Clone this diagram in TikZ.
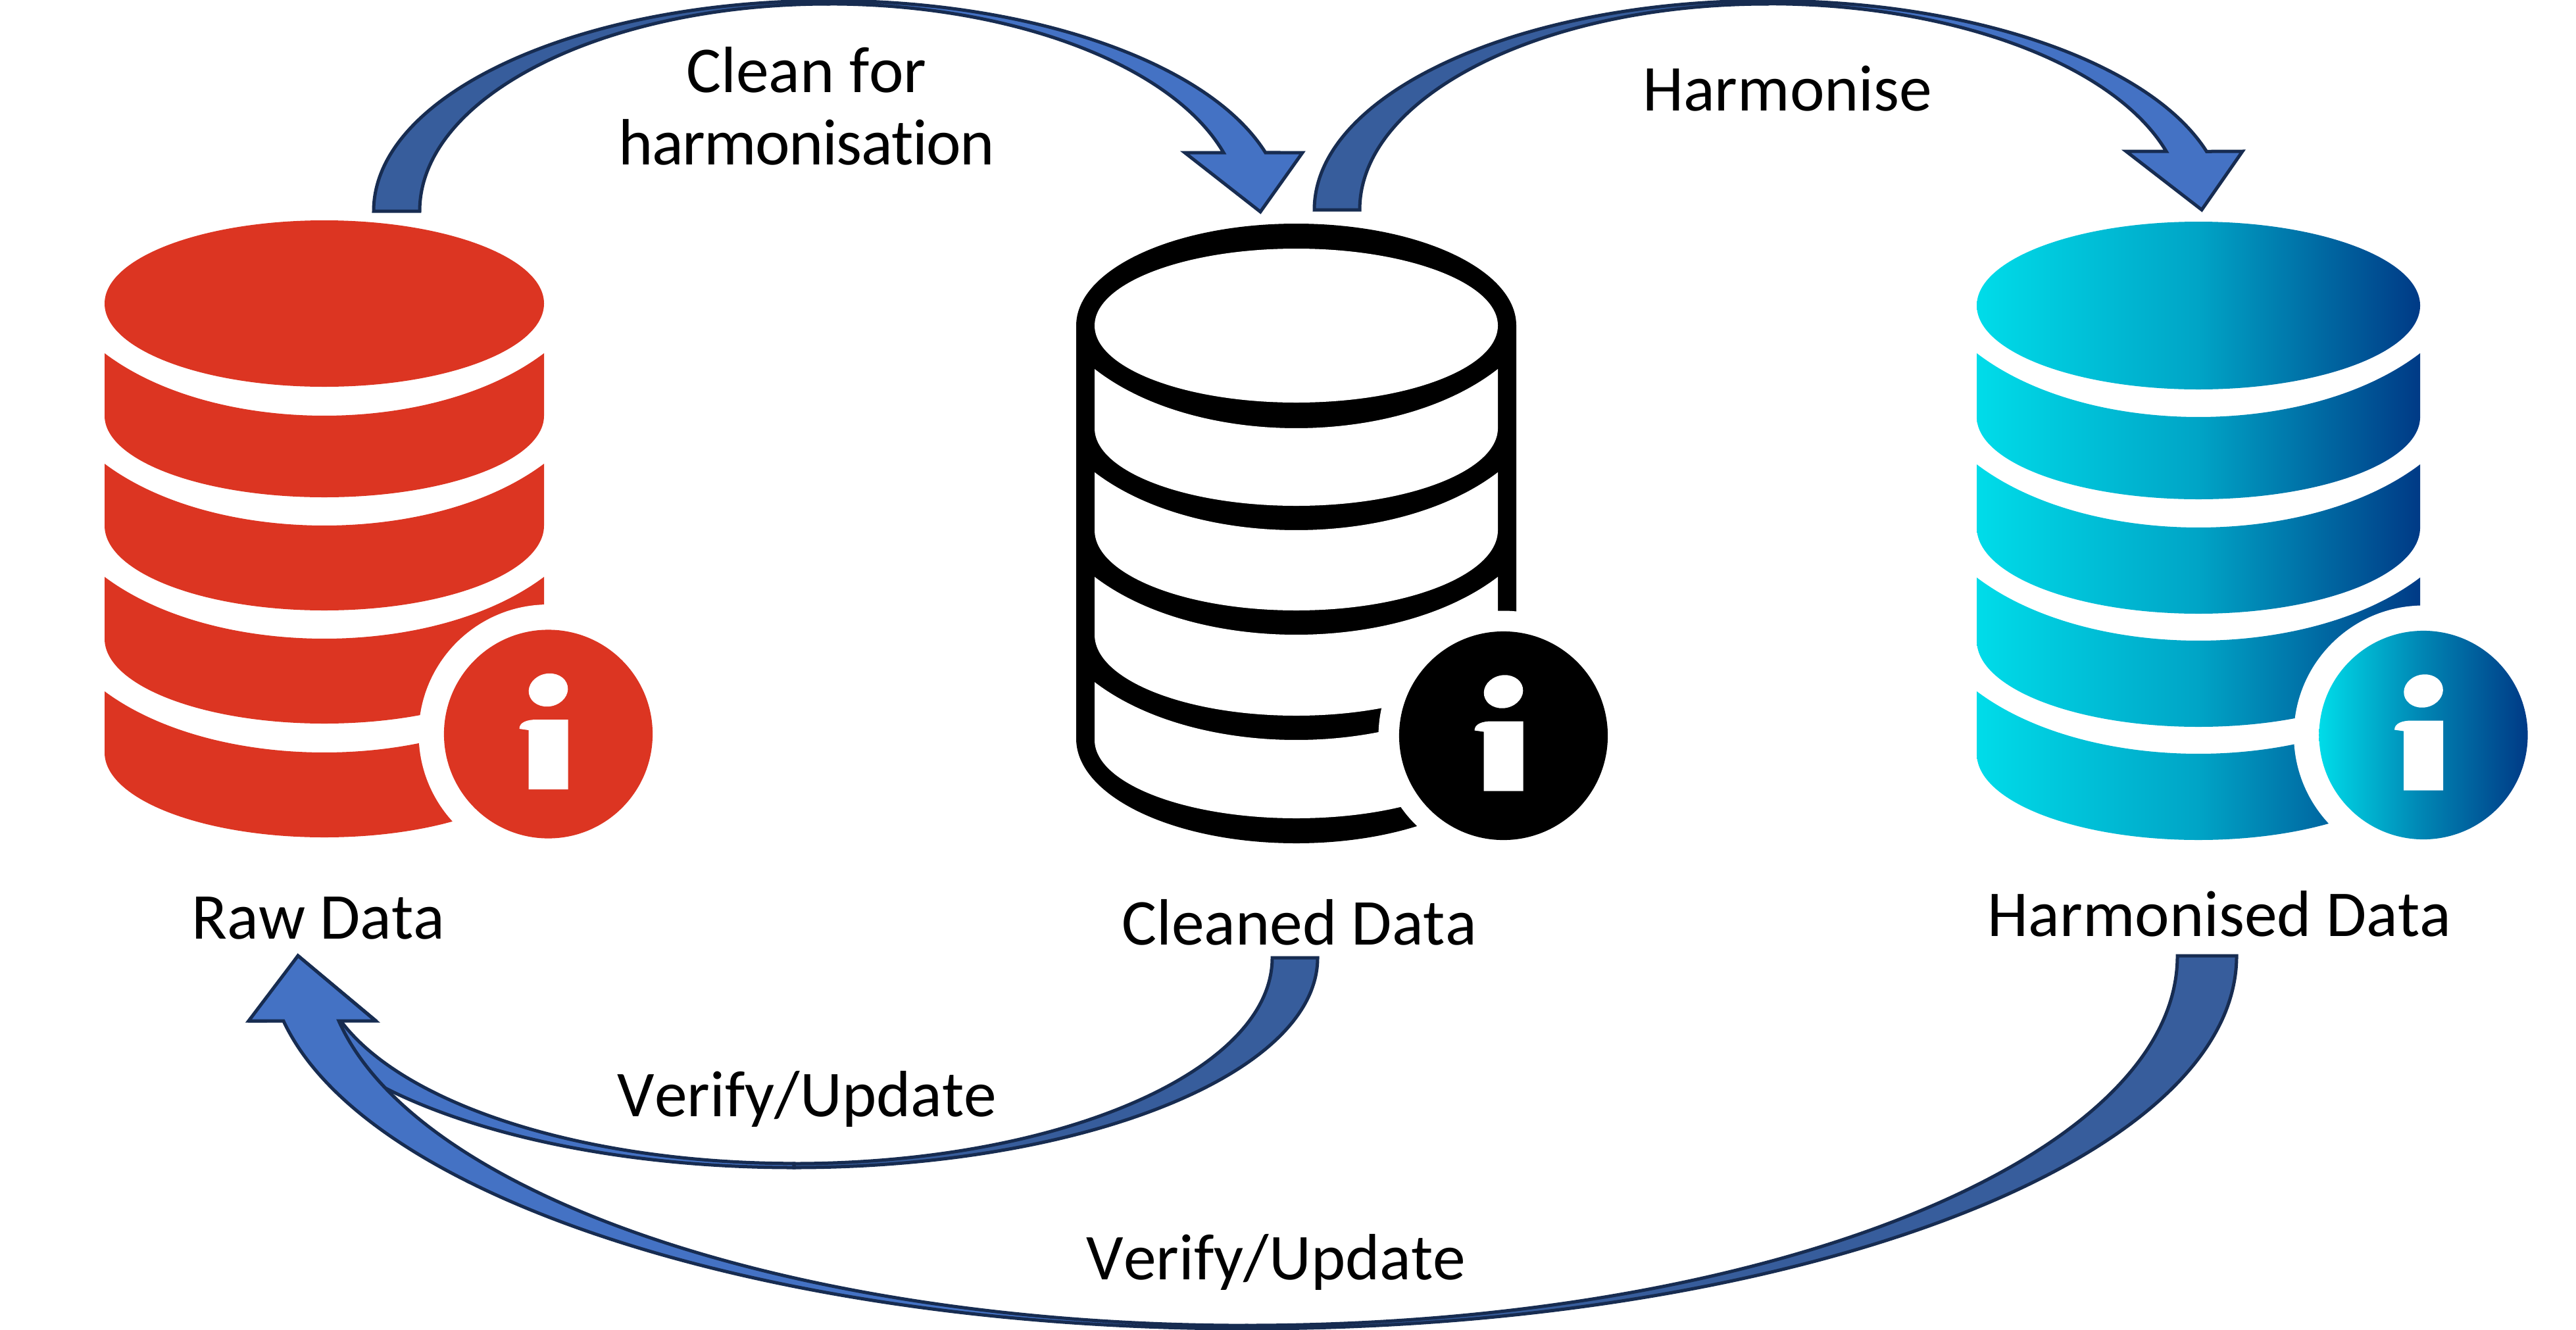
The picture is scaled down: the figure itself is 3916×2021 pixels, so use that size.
\documentclass[tikz,border=0pt]{standalone}
\usepackage{fontspec}
\setmainfont[Kerning=Off, Ligatures=NoCommon]{Carlito}
\usetikzlibrary{positioning}
\definecolor{rawColor}{RGB}{220,53,34}
\definecolor{cyanColor}{RGB}{0,220,233}
\definecolor{tealColor}{RGB}{0,164,198}
\definecolor{navyColor}{RGB}{0,58,134}
\definecolor{tailColor}{RGB}{55,93,156}
\definecolor{headColor}{RGB}{68,114,196}
\definecolor{edgeColor}{RGB}{23,44,81}
\tikzset{datalabel/.style={font=\fontsize{28.3}{31.2}\selectfont, align=center, inner sep=0pt}}
\tikzset{tailblock/.style={fill=tailColor, draw=edgeColor, line width=.05cm, miter limit=20}}
\tikzset{headblock/.style={tailblock, fill=headColor}}
\tikzset{rawfill/.style={fill=rawColor}}
\tikzset{cleanedfill/.style={fill=white}}
\tikzset{harmonisedfill/.style={left color=cyanColor, right color=navyColor, middle color=tealColor}}
\tikzset{harmonisedbadge/.style={left color=cyanColor, right color=navyColor, middle color=tealColor!70!navyColor}}

% one band of a cylinder: style, left, right, corner, middle, bottom
\newcommand{\dbpanel}[6]{
	\pgfmathsetmacro{\dbw}{#3-#2}
	\pgfmathsetmacro{\dbc}{#4+1.333*(#5-#4)}
	\path[#1] (#2,#4) .. controls (#2+.25*\dbw,\dbc) and (#3-.25*\dbw,\dbc) .. (#3,#4) -- (#3,#5)
		arc[start angle=0, end angle=180, x radius=\dbw/2, y radius=#6-#5] -- cycle;
}
% info badge: name, position, style, colour of the glyph, radius of the white ring
\newcommand{\infobadge}[5]{
	\fill[white] (#2) circle[radius=#5];
	\node (#1) [circle, inner sep=0pt, minimum size=3.17cm, #3] at (#2) {};
	\begin{scope}[shift={(#1.center)}]
		\fill[#4] (0,-67) ellipse[x radius=30, y radius=25, rotate=12];
		\fill[#4] (30,-22) -- (-18,-22) .. controls (-32,-22) and (-44,-18) .. (-44,-8) -- (-30,-6) -- (-30,84) -- (30,84) -- cycle;
	\end{scope}
}

\begin{document}
\begin{tikzpicture}[x=.01cm, y=-.01cm]
	\useasboundingbox (0,0) rectangle (3916,2021);

	% Raw data
	\fill[rawfill] (493,461.5) ellipse[x radius=334, y radius=126.5];
	\dbpanel{rawfill}{159}{827}{537}{632}{756}
	\dbpanel{rawfill}{159}{827}{705}{799}{928}
	\dbpanel{rawfill}{159}{827}{877}{971}{1100}
	\dbpanel{rawfill}{159}{827}{1051}{1144}{1273}
	\infobadge{rawinfo}{833.5,1116}{rawfill}{white}{197}

	% Cleaned data
	\fill[black] (1636,495) arc[start angle=180, end angle=360, x radius=334.5, y radius=155] -- (2305,1123)
		arc[start angle=0, end angle=180, x radius=334.5, y radius=159] -- cycle;
	\fill[cleanedfill] (1970.5,495) ellipse[x radius=306.5, y radius=117];
	\dbpanel{cleanedfill}{1664}{2277}{561}{651}{769}
	\dbpanel{cleanedfill}{1664}{2277}{718}{806}{928}
	\dbpanel{cleanedfill}{1664}{2277}{877}{965}{1088}
	\dbpanel{cleanedfill}{1664}{2277}{1037}{1125}{1244}
	\infobadge{cleanedinfo}{2285.5,1118.5}{fill=black}{white}{190}

	% Harmonised data
	\path[harmonisedfill] (3342,464.5) ellipse[x radius=337, y radius=127.5];
	\dbpanel{harmonisedfill}{3005}{3679}{537}{634}{759}
	\dbpanel{harmonisedfill}{3005}{3679}{706}{802}{933}
	\dbpanel{harmonisedfill}{3005}{3679}{878}{974}{1105}
	\dbpanel{harmonisedfill}{3005}{3679}{1051}{1146}{1277}
	\infobadge{harmonisedinfo}{3684,1117.5}{harmonisedbadge}{white}{197}

	% Labels
	\node (rawlabel) [datalabel, anchor=base] at (484,1427) {Raw Data};
	\node (cleanedlabel) [datalabel, anchor=base] at (1975,1436) {Cleaned Data};
	\node (harmonisedlabel) [datalabel, anchor=base] at (3374,1423) {Harmonised Data};
	\node (cleanlabel) [datalabel] at (1226,161) {Clean for\\{\addfontfeature{LetterSpace=-1.5}harmonisation}};
	\node (harmoniselabel) [datalabel, anchor=base] at (2717,168) {Harmonise};
	\node (verifycleaned) [datalabel, anchor=base] at (1227,1697) {Verify/Update};
	\node (verifyharmonised) [datalabel, anchor=base] at (1940,1945) {Verify/Update};

	% Arrow ends
	\coordinate (rawtail) at (568,321);
	\coordinate (rawtop) at (1260,1);
	\coordinate (cleanedtip) at (1916,322);
	\coordinate (cleanedtail) at (1998,319);
	\coordinate (cleanedtop) at (2687,1);
	\coordinate (harmonisedtip) at (3347,319);
	\coordinate (cleanedback) at (2003,1456);
	\coordinate (cleanedlow) at (1207,1775);
	\coordinate (harmonisedback) at (3400,1453);
	\coordinate (harmonisedlow) at (1895,2020);
	\coordinate (rawtip) at (453,1453);

	% Connectors
	\draw[tailblock] (rawtail) arc[start angle=180, end angle=270, x radius=692, y radius=320] -- ++(0,5)
		arc[start angle=270, end angle=180, x radius=622, y radius=315] -- cycle;
	\draw[headblock] (rawtop) arc[start angle=270, end angle=343.85, x radius=691, y radius=320] -- (1980,232) -- (cleanedtip) -- (1801,232) -- (1860,232)
		arc[start angle=343.6, end angle=270, x radius=626, y radius=315] -- cycle;

	\draw[tailblock] (cleanedtail) arc[start angle=180, end angle=270, x radius=689, y radius=318] -- ++(0,5)
		arc[start angle=270, end angle=180, x radius=620, y radius=313] -- cycle;
	\draw[headblock] (cleanedtop) arc[start angle=270, end angle=343.8, x radius=695, y radius=318] -- (3409,230) -- (harmonisedtip) -- (3232,230) -- (3293,230)
		arc[start angle=343.54, end angle=270, x radius=632, y radius=313] -- cycle;

	\draw[tailblock] (cleanedback) arc[start angle=0, end angle=90, x radius=796, y radius=319] -- ++(0,-6)
		arc[start angle=90, end angle=0, x radius=727, y radius=313] -- cycle;
	\draw[headblock] (cleanedlow) arc[start angle=90, end angle=162.5, x radius=793, y radius=319] -- (382,1552) -- (rawtip) -- (568,1549) -- (518,1552)
		arc[start angle=162.1, end angle=90, x radius=724, y radius=313] -- cycle;

	\draw[tailblock] (harmonisedback) arc[start angle=0, end angle=90, x radius=1505, y radius=567] -- ++(0,-5)
		arc[start angle=90, end angle=0, x radius=1415, y radius=562] -- cycle;
	\draw[headblock] (harmonisedlow) arc[start angle=90, end angle=169.94, x radius=1487, y radius=567] -- (378,1552) -- (rawtip) -- (571,1552) -- (515,1552)
		arc[start angle=169.86, end angle=90, x radius=1402, y radius=562] -- cycle;
\end{tikzpicture}
\end{document}
